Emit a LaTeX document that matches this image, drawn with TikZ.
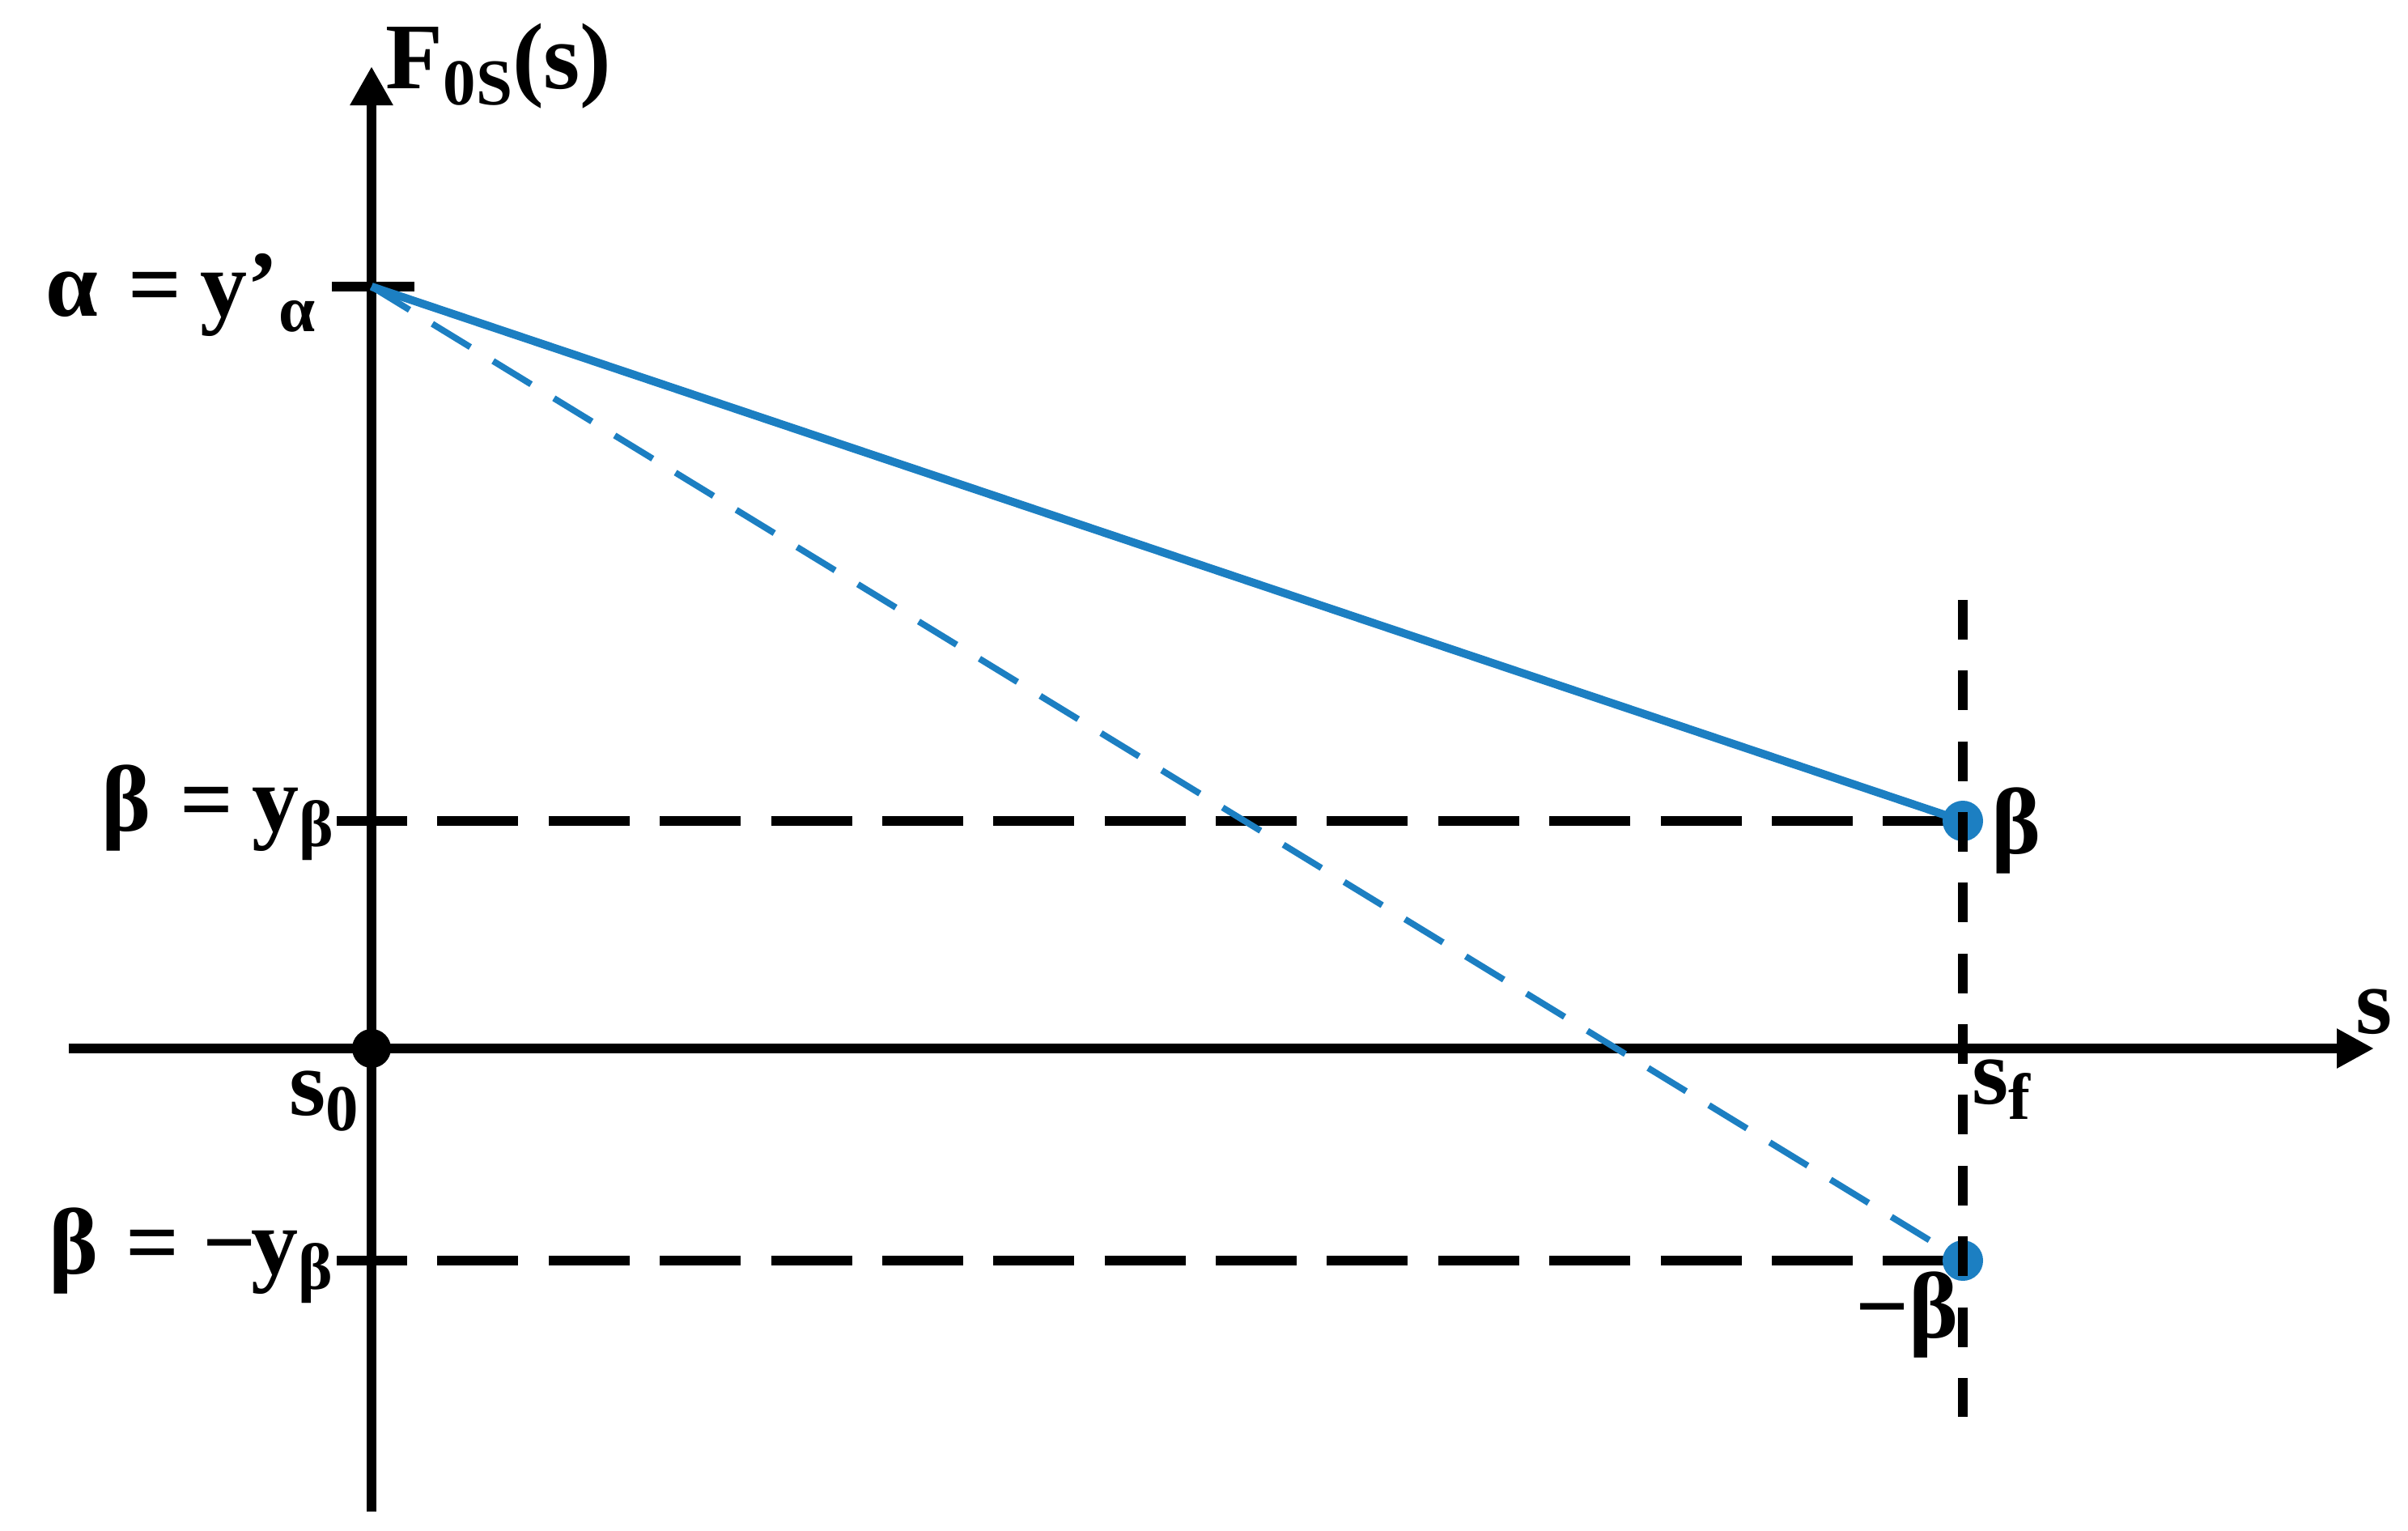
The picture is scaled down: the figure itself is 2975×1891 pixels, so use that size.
\documentclass[tikz,border=0pt]{standalone}
\usepackage{fontspec}
\setmainfont{Liberation Serif}
\usetikzlibrary{arrows.meta}
\definecolor{curveblue}{RGB}{28,127,194}
\newcommand{\lowsub}[1]{\raisebox{-0.19cm}{\fontsize{23}{23}\selectfont #1}}
\tikzset{
  axisline/.style={line width=0.125cm, black},
  refdash/.style={line width=0.125cm, black, dash pattern=on 1cm off 0.373cm, dash phase=0.13cm},
  vdash/.style={line width=0.125cm, black, dash pattern=on 0.49cm off 0.383cm},
  bluecurve/.style={line width=0.1cm, curveblue},
  bluedash/.style={line width=0.078cm, curveblue, dash pattern=on 0.55cm off 0.33cm},
  endpt/.style={circle, fill=curveblue, inner sep=0pt, minimum size=0.5cm},
  origin/.style={circle, fill=black, inner sep=0pt, minimum size=0.48cm},
  lbl/.style={inner sep=0pt, font=\fontsize{33}{33}\selectfont\bfseries},
}
\begin{document}
\begin{tikzpicture}[x=0.01cm, y=-0.01cm]
\useasboundingbox (0,0) rectangle (2975,1891);
% key coordinates
\coordinate (ybot) at (459,1867);
\coordinate (ytop) at (459,82);
\coordinate (xleft) at (85,1295);
\coordinate (xright) at (2933,1295);
\coordinate (A) at (459,354);
\coordinate (tickL) at (410,354);
\coordinate (tickR) at (512,354);
\coordinate (B) at (2425,1014);
\coordinate (Bm) at (2425,1557);
\coordinate (BL) at (416,1014);
\coordinate (BmL) at (416,1557);
\coordinate (sftop) at (2425,741);
\coordinate (sfbot) at (2425,1750);
% reference dashed lines
\draw[refdash] (BL) -- (B);
\draw[refdash] (BmL) -- (Bm);
% axes
\draw[axisline, -{Triangle[length=0.48cm, width=0.5cm]}] (ybot) -- (ytop);
\draw[axisline, -{Triangle[length=0.46cm, width=0.46cm]}] (xleft) -- (xright);
\draw[axisline] (tickL) -- (tickR);
% curves
\node[endpt] (Bpt) at (B) {};
\node[endpt] (Bmpt) at (Bm) {};
\draw[bluecurve] (A) -- (Bpt.center);
\draw[bluedash] (A) -- (Bmpt.center);
% s_f vertical
\draw[vdash] (sftop) -- (sfbot);
% origin
\node[origin] (O) at (459,1295) {};
% labels
\node[lbl, anchor=base west] (Flbl) at (476,110) {F\lowsub{0S}(s)};
\node[lbl, anchor=base east] (alpha) at (390,390) {α\hspace{0.07em} =\hspace{0.2em}y’\lowsub{α}};
\node[lbl, anchor=base east] (beta) at (413,1026) {β\hspace{0.06em} =\hspace{0.2em}y\lowsub{β}};
\node[lbl, anchor=base east] (mbeta) at (412,1573) {β\hspace{0.04em} = −\kern-0.05em y\lowsub{β}};
\node[lbl, anchor=base west] (s0) at (357,1377) {s\lowsub{0}};
\node[lbl, anchor=base west] (sf) at (2436,1363) {s\lowsub{f}};
\node[lbl, anchor=base west] (slbl) at (2910,1276) {s};
\node[lbl, anchor=base west] (betapt) at (2460,1054) {β};
\node[lbl, anchor=base east] (mbetapt) at (2420,1652) {−β};
\end{tikzpicture}
\end{document}
